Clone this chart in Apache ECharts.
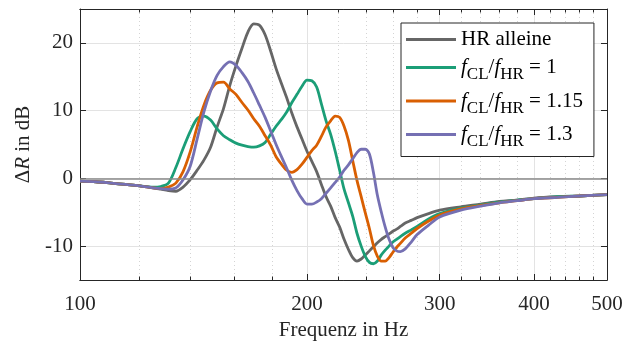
<!DOCTYPE html>
<html>
<head>
<meta charset="utf-8">
<script src="https://cdn.jsdelivr.net/npm/echarts@6/dist/echarts.min.js"></script>
<style>
  html, body { margin: 0; padding: 0; background: #fff; }
  #chart { width: 635px; height: 341px; }
</style>
</head>
<body>
<div id="chart"></div>
<script>
// Frequenzen (Hz)
const freqs = [100, 105, 110, 115, 120, 125, 128, 131, 134, 137, 140, 143, 146, 149, 152, 155, 158, 161, 164, 167,
  170, 173, 176, 179, 182, 185, 188, 191, 194, 197, 200, 203, 206, 209, 212, 215, 218, 221, 224, 227,
  230, 233, 236, 239, 242, 245, 248, 251, 254, 257, 260, 263, 266, 270, 275, 280, 290, 300, 320, 340,
  360, 380, 400, 430, 460, 500]

// Delta R in dB
const hrAlleine = [-0.4, -0.5, -0.7, -0.9, -1.1, -1.4, -1.6, -1.8, -1.9, -1.3, -0.2, 1.2, 2.7, 4.6, 7.6, 10.3, 13.7, 16.6, 19.2, 21.6,
  22.8, 22.6, 21.2, 18.8, 16.2, 14.0, 11.9, 9.6, 7.6, 5.8, 4.0, 2.5, 1.0, -0.9, -2.7, -4.1, -5.8, -7.2, -9.0, -10.5,
  -11.7, -12.2, -11.9, -11.3, -10.7, -10.1, -9.5, -9.0, -8.6, -8.2, -7.8, -7.5, -7.1, -6.6, -6.2, -5.8, -5.2, -4.7, -4.2, -3.8,
  -3.4, -3.2, -2.9, -2.7, -2.6, -2.4]
const ratio100 = [-0.4, -0.5, -0.7, -0.9, -1.1, -1.3, -1.2, -0.7, 1.6, 4.4, 6.9, 8.8, 9.2, 8.6, 7.3, 6.3, 5.7, 5.2, 4.9, 4.7,
  4.6, 4.8, 5.3, 6.5, 7.7, 8.7, 9.8, 11.2, 12.4, 13.6, 14.5, 14.4, 13.5, 11.0, 8.5, 6.5, 4.0, 1.2, -1.6, -3.6,
  -5.6, -8.1, -10.0, -11.5, -12.4, -12.6, -12.2, -11.3, -10.6, -10.0, -9.4, -9.0, -8.6, -8.1, -7.6, -7.1, -6.0, -5.2, -4.4, -3.9,
  -3.5, -3.2, -3.0, -2.7, -2.6, -2.4]
const ratio115 = [-0.4, -0.5, -0.7, -0.9, -1.1, -1.4, -1.5, -1.3, -0.7, 1.0, 3.9, 7.6, 10.8, 13.0, 14.1, 14.2, 13.2, 12.4, 11.2, 10.1,
  8.8, 7.7, 6.3, 4.9, 3.2, 2.1, 1.2, 0.9, 1.3, 2.1, 3.1, 4.1, 4.9, 6.2, 7.6, 8.5, 9.2, 9.0, 7.7, 5.6,
  2.6, -0.3, -2.7, -5.1, -7.4, -9.9, -11.5, -12.2, -12.2, -11.7, -10.9, -10.2, -9.6, -8.8, -8.1, -7.4, -6.3, -5.4, -4.5, -4.0,
  -3.6, -3.3, -3.0, -2.8, -2.6, -2.4]
const ratio130 = [-0.4, -0.5, -0.7, -0.9, -1.1, -1.4, -1.5, -1.6, -1.4, -0.2, 1.8, 5.8, 9.8, 12.9, 15.2, 16.5, 17.2, 16.7, 15.6, 14.3,
  12.6, 10.8, 9.0, 7.0, 5.0, 3.2, 1.5, -0.3, -1.8, -3.0, -3.8, -3.8, -3.5, -3.0, -2.2, -1.4, -0.6, 0.2, 1.2, 2.0,
  2.9, 3.8, 4.3, 4.3, 3.6, 0.9, -2.5, -5.0, -7.2, -9.0, -10.2, -10.7, -10.8, -10.4, -9.4, -8.3, -6.9, -5.7, -4.7, -4.1,
  -3.6, -3.3, -3.0, -2.8, -2.6, -2.4]

// Achsenteilung
const majorTicks = [100, 200, 300, 400, 500]
const minorTicks = [120, 140, 160, 180, 220, 240, 260, 280, 320, 340, 360, 380, 420, 440, 460, 480]
const yTicks = [-10, 0, 10, 20]

const seriesNames = ['HR alleine', 'fCL/fHR = 1', 'fCL/fHR = 1.15', 'fCL/fHR = 1.3']
const seriesData = [hrAlleine, ratio100, ratio115, ratio130]
const colors = ['#666666', '#1b9e77', '#d95f02', '#7570b3']

const font = 'Liberation Serif'
const fs = 21
const axisColor = '#262626'
const lg = v => Math.log10(v)

const chart = echarts.init(document.getElementById('chart'))

const xBase = {
  type: 'value',
  gridIndex: 0,
  min: lg(100),
  max: lg(500),
  axisLine: { show: true, onZero: false, lineStyle: { color: axisColor, width: 1 } },
  axisLabel: { show: false },
  splitLine: { show: false }
}

const option = {
  animation: false,
  backgroundColor: '#fff',
  grid: { left: 80, right: 28, top: 9, bottom: 61, outerBoundsMode: 'none', containLabel: false },
  legend: {
    orient: 'vertical',
    left: 401,
    top: 23,
    padding: [6, 11, 6, 5],
    itemGap: 7,
    itemWidth: 50,
    itemHeight: 3,
    icon: 'rect',
    backgroundColor: '#fff',
    borderColor: axisColor,
    borderWidth: 1,
    data: seriesNames,
    formatter: name => {
      if (name.indexOf('fCL') !== 0) return name
      return '{i|f}{s|CL}/{i|f}{s|HR} = ' + name.split('= ')[1]
    },
    textStyle: {
      fontFamily: font,
      fontSize: fs,
      color: '#000',
      rich: {
        i: { fontFamily: font, fontSize: fs, fontStyle: 'italic', color: '#000' },
        s: { fontFamily: font, fontSize: 17, color: '#000', padding: [15, 0, 0, 0] }
      }
    }
  },
  xAxis: [
    Object.assign({}, xBase, {
      position: 'bottom',
      name: 'Frequenz in Hz',
      nameLocation: 'middle',
      nameGap: 38,
      nameTextStyle: { fontFamily: font, fontSize: fs, color: axisColor },
      axisTick: { show: true, inside: true, length: 6, customValues: majorTicks.map(lg), lineStyle: { color: axisColor } },
      axisLabel: {
        show: true, customValues: majorTicks.map(lg), margin: 14,
        fontFamily: font, fontSize: fs, color: axisColor,
        formatter: v => String(Math.round(Math.pow(10, v)))
      },
      splitLine: { show: true, lineStyle: { color: '#e3e3e3', width: 1 } }
    }),
    Object.assign({}, xBase, {
      position: 'bottom',
      axisTick: { show: true, inside: true, length: 3.5, customValues: minorTicks.map(lg), lineStyle: { color: axisColor } },
      splitLine: { show: true, lineStyle: { color: '#d4d4d4', width: 1, type: [1, 3] } }
    }),
    Object.assign({}, xBase, {
      position: 'top',
      axisTick: { show: true, inside: true, length: 6, customValues: majorTicks.map(lg), lineStyle: { color: axisColor } }
    }),
    Object.assign({}, xBase, {
      position: 'top',
      axisTick: { show: true, inside: true, length: 3.5, customValues: minorTicks.map(lg), lineStyle: { color: axisColor } }
    })
  ],
  yAxis: [
    {
      type: 'value',
      min: -15,
      max: 25,
      position: 'left',
      name: 'Δ{i|R} in dB',
      nameLocation: 'middle',
      nameGap: 38,
      nameTextStyle: {
        fontFamily: font, fontSize: fs, color: axisColor,
        rich: { i: { fontFamily: font, fontSize: fs, fontStyle: 'italic', color: axisColor } }
      },
      axisLine: { show: true, onZero: false, lineStyle: { color: axisColor } },
      axisTick: { show: true, inside: true, length: 6, customValues: yTicks, lineStyle: { color: axisColor } },
      axisLabel: { customValues: yTicks, margin: 7, fontFamily: font, fontSize: fs, color: axisColor },
      splitLine: { show: true, lineStyle: { color: '#e3e3e3', width: 1 } }
    },
    {
      type: 'value',
      min: -15,
      max: 25,
      position: 'right',
      axisLine: { show: true, onZero: false, lineStyle: { color: axisColor } },
      axisTick: { show: true, inside: true, length: 6, customValues: yTicks, lineStyle: { color: axisColor } },
      axisLabel: { show: false },
      splitLine: { show: false }
    }
  ],
  series: seriesNames.map((name, k) => ({
    name: name,
    type: 'line',
    xAxisIndex: 0,
    yAxisIndex: 0,
    data: freqs.map((f, i) => [lg(f), seriesData[k][i]]),
    smooth: 0.3,
    symbol: 'none',
    color: colors[k],
    lineStyle: { color: colors[k], width: 2.8 },
    markLine: k === 0 ? {
      silent: true,
      symbol: 'none',
      label: { show: false },
      lineStyle: { color: '#8a8a8a', width: 1.5, type: 'solid' },
      data: [{ yAxis: 0 }]
    } : undefined
  }))
}

chart.setOption(option)
</script>
</body>
</html>
